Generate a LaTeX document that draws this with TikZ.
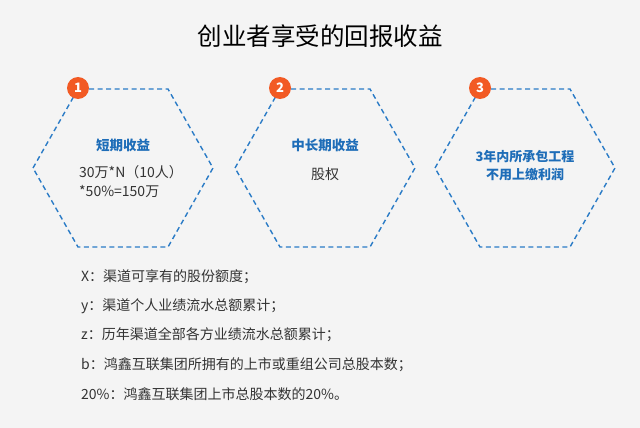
\documentclass[tikz,border=0pt]{standalone}
\usepackage{fontspec}
\setmainfont{Noto Sans CJK SC}
\definecolor{bg}{HTML}{F4F4F4}
\definecolor{hexblue}{HTML}{2A7BC6}
\definecolor{titleblue}{HTML}{1E6DB8}
\definecolor{badge}{HTML}{F25A24}
\definecolor{bodygray}{HTML}{333333}
\begin{document}
\begin{tikzpicture}[x=1pt,y=-1pt,
  hexline/.style={draw=hexblue,line width=1.4pt,dash pattern=on 5pt off 3.5pt},
  badgenode/.style={circle,fill=badge,minimum size=22pt,inner sep=0pt,text=white,font=\fontsize{13}{13}\selectfont\bfseries},
  hextitle/.style={text=titleblue,font=\fontsize{13.5}{17}\selectfont\bfseries,align=center},
  hexbody/.style={text=bodygray,font=\fontsize{14}{19}\selectfont,align=left},
  listtext/.style={text=bodygray,font=\fontsize{14}{14}\selectfont,anchor=west,inner sep=0pt}]
\fill[bg] (0,0) rectangle (640,428);
\useasboundingbox (0,0) rectangle (640,428);
\node[text=black,font=\fontsize{24.5}{24.5}\selectfont] (title) at (320,36) {创业者享受的回报收益};
% hexagons
\foreach \cx/\n in {123/1,325/2,525/3}{
  \draw[hexline] (\cx-90,168) -- (\cx-45,89) -- (\cx+45,89) -- (\cx+90,168) -- (\cx+45,247) -- (\cx-45,247) -- cycle;
  \node[badgenode] (badge\n) at (\cx-45,88) {\n};
}
\node[hextitle] (t1) at (123,145) {短期收益};
\node[hexbody,anchor=north west,inner sep=0pt] (b1) at (79,165) {30万*N（10人）\\*50\%=150万};
\node[hextitle] (t2) at (325,145) {中长期收益};
\node[hexbody] (b2) at (325,174) {股权};
\node[hextitle,font=\fontsize{13}{18}\selectfont\bfseries] (t3) at (525,166) {3年内所承包工程\\不用上缴利润};
% list
\node[listtext] (l1) at (81,277) {X：渠道可享有的股份额度；};
\node[listtext] (l2) at (81,306) {y：渠道个人业绩流水总额累计；};
\node[listtext] (l3) at (81,335) {z：历年渠道全部各方业绩流水总额累计；};
\node[listtext] (l4) at (81,365) {b：鸿鑫互联集团所拥有的上市或重组公司总股本数；};
\node[listtext] (l5) at (81,394) {20\%：鸿鑫互联集团上市总股本数的20\%。};
\end{tikzpicture}
\end{document}
